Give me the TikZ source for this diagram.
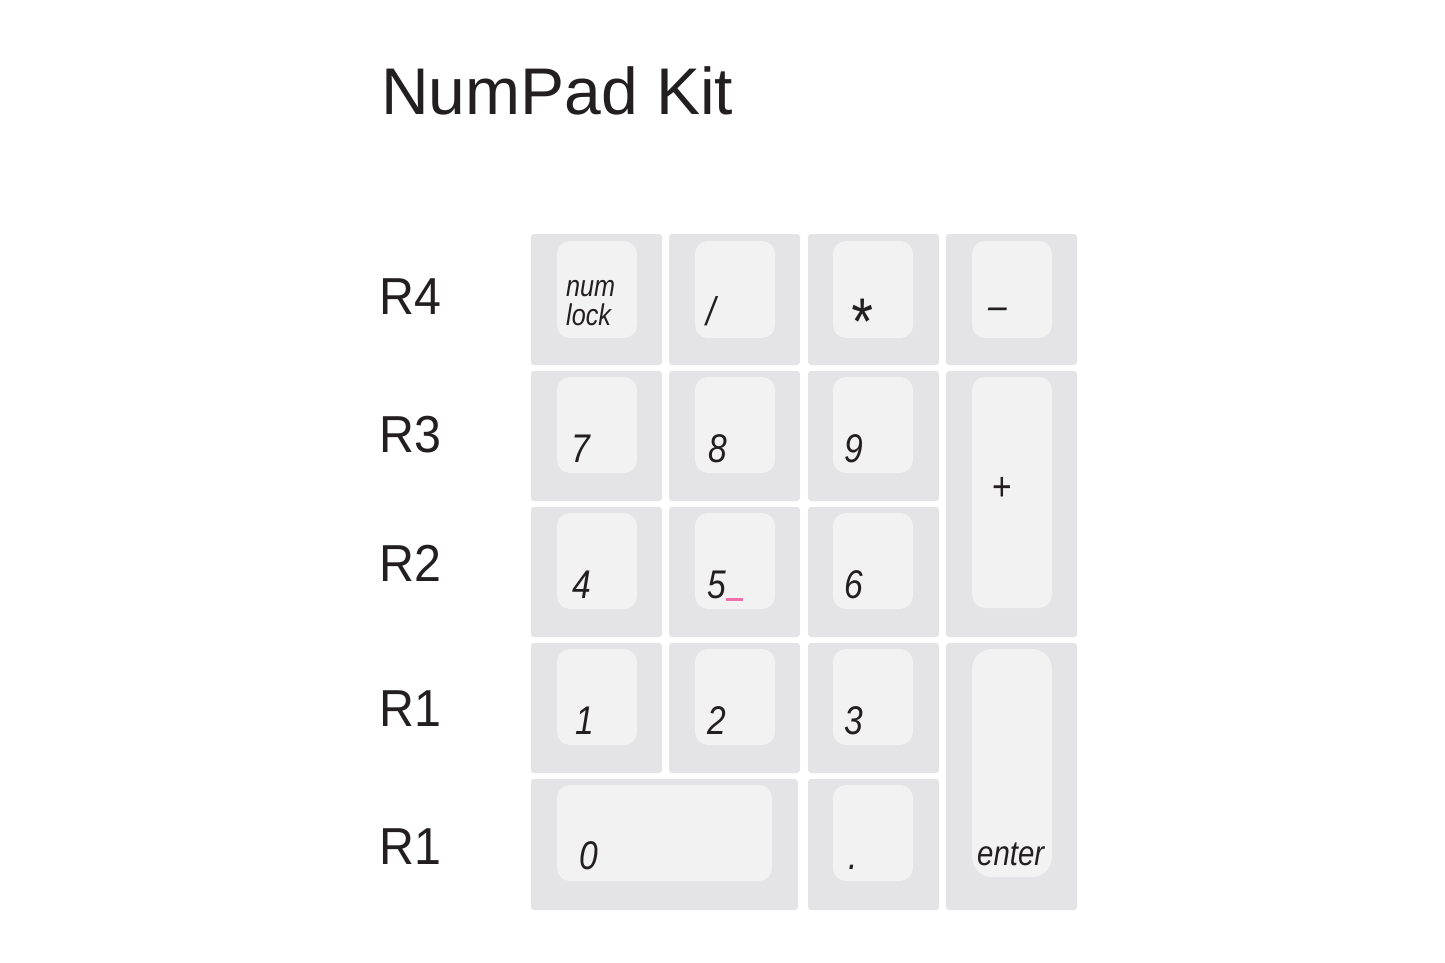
\documentclass[tikz,border=0pt]{standalone}
\usepackage{fontspec}
\setmainfont{Liberation Sans}
\newfontfamily\keyfont[FakeStretch=0.84]{Liberation Sans}
\newfontfamily\rowfont[FakeStretch=0.93]{Liberation Sans}
\definecolor{keybase}{HTML}{E4E3E5}
\definecolor{keycap}{HTML}{F2F2F2}
\definecolor{ink}{HTML}{231F20}
\definecolor{accent}{HTML}{F06EAA}
\tikzset{
  basekey/.style={fill=keybase, rounded corners=3pt},
  capkey/.style={fill=keycap, rounded corners=13pt},
  enterkey/.style={fill=keycap, rounded corners=20pt},
  title/.style={anchor=base west, inner sep=0pt, text=ink, font=\fontsize{66}{66}\selectfont},
  rowlab/.style={anchor=base west, inner sep=0pt, text=ink, font=\rowfont\fontsize{52}{52}\selectfont},
  digit/.style={anchor=base west, inner sep=0pt, text=ink, font=\keyfont\itshape\fontsize{40}{40}\selectfont},
  word/.style={anchor=base west, inner sep=0pt, text=ink, font=\keyfont\itshape\fontsize{35}{35}\selectfont},
  small/.style={anchor=base west, inner sep=0pt, text=ink, font=\keyfont\itshape\fontsize{30}{30}\selectfont},
}
\begin{document}
\begin{tikzpicture}[x=1pt,y=-1pt]
\useasboundingbox (0,0) rectangle (1445,963);
\fill[white] (0,0) rectangle (1445,963);

% title
\node[title] (ttl) at (381,115) {NumPad Kit};

% row labels
\node[rowlab] (r4) at (379,314) {R4};
\node[rowlab] (r3) at (379,452) {R3};
\node[rowlab] (r2) at (379,581) {R2};
\node[rowlab] (r1a) at (379,726) {R1};
\node[rowlab] (r1b) at (379,864) {R1};

% ---- key bases ----
% row 4
\fill[basekey] (531,234) rectangle (662,365);
\fill[basekey] (669,234) rectangle (800,365);
\fill[basekey] (808,234) rectangle (939,365);
\fill[basekey] (946,234) rectangle (1077,365);
% row 3
\fill[basekey] (531,371) rectangle (662,501);
\fill[basekey] (669,371) rectangle (800,501);
\fill[basekey] (808,371) rectangle (939,501);
\fill[basekey] (946,371) rectangle (1077,637);
% row 2
\fill[basekey] (531,507) rectangle (662,637);
\fill[basekey] (669,507) rectangle (800,637);
\fill[basekey] (808,507) rectangle (939,637);
% row 1
\fill[basekey] (531,643) rectangle (662,773);
\fill[basekey] (669,643) rectangle (800,773);
\fill[basekey] (808,643) rectangle (939,773);
\fill[basekey] (946,643) rectangle (1077,910);
% bottom row
\fill[basekey] (531,779) rectangle (798,910);
\fill[basekey] (808,779) rectangle (939,910);

% ---- key caps ----
\fill[capkey] (557,241) rectangle (637,338);
\fill[capkey] (695,241) rectangle (775,338);
\fill[capkey] (833,241) rectangle (913,338);
\fill[capkey] (972,241) rectangle (1052,338);

\fill[capkey] (557,377) rectangle (637,473);
\fill[capkey] (695,377) rectangle (775,473);
\fill[capkey] (833,377) rectangle (913,473);
\fill[capkey] (972,377) rectangle (1052,608);

\fill[capkey] (557,513) rectangle (637,609);
\fill[capkey] (695,513) rectangle (775,609);
\fill[capkey] (833,513) rectangle (913,609);

\fill[capkey] (557,649) rectangle (637,745);
\fill[capkey] (695,649) rectangle (775,745);
\fill[capkey] (833,649) rectangle (913,745);
\fill[enterkey] (972,649) rectangle (1052,877);

\fill[capkey] (557,785) rectangle (772,881);
\fill[capkey] (833,785) rectangle (913,881);

% ---- labels ----
\node[small] (knum) at (566,296) {num};
\node[small] (klock) at (566,325) {lock};
\node[digit] (kslash) at (706,325) {/};
\node[digit, font=\keyfont\itshape\fontsize{66}{66}\selectfont] (kstar) at (849,344) {*};
\node[digit] (kminus) at (988,319) {–};

\node[digit] (k7) at (571,462) {7};
\node[digit] (k8) at (708,462) {8};
\node[digit] (k9) at (844,462) {9};
\node[digit, font=\keyfont\fontsize{40}{40}\selectfont] (kplus) at (992,500) {+};

\node[digit] (k4) at (572,598) {4};
\node[digit] (k5) at (707,598) {5};
\node[digit] (k6) at (844,598) {6};
\fill[accent] (726,597.5) rectangle (743,601);

\node[digit] (k1) at (575,734) {1};
\node[digit] (k2) at (707,734) {2};
\node[digit] (k3) at (844,734) {3};

\node[digit] (k0) at (579,869) {0};
\node[digit] (kdot) at (848,869) {.};
\node[word] (kenter) at (977,865) {enter};
\end{tikzpicture}
\end{document}
